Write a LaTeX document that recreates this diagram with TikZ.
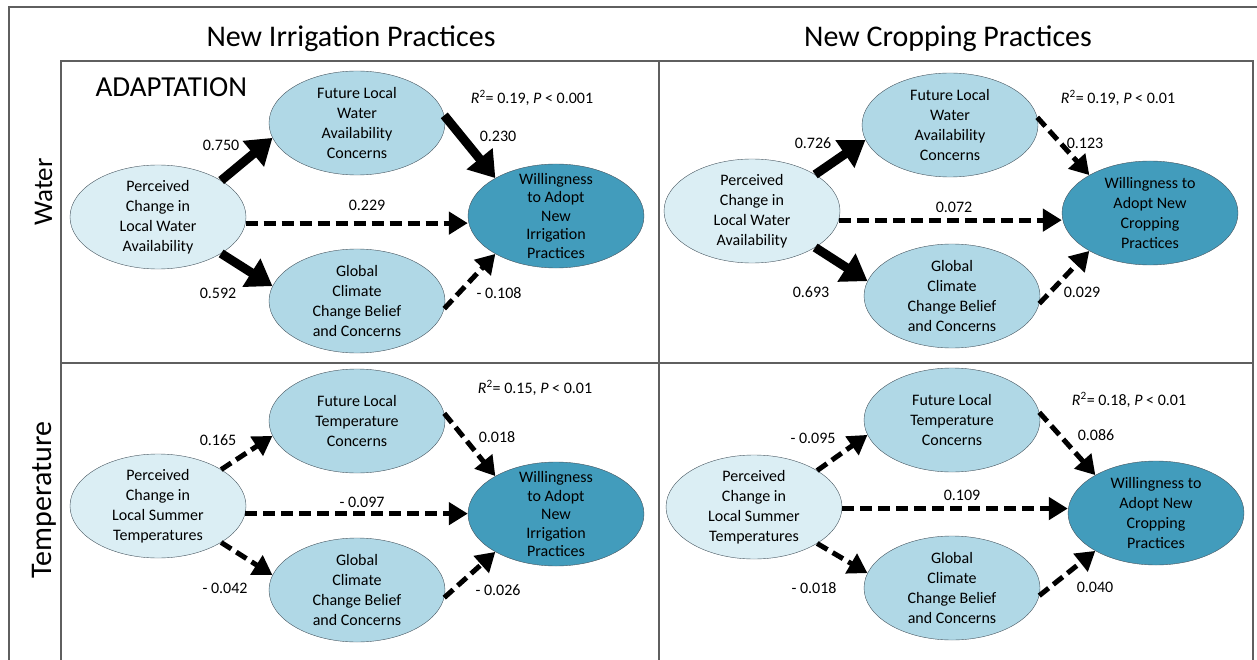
\documentclass[tikz,border=0pt]{standalone}
\usepackage{fontspec}
\setmainfont{Carlito}
\usetikzlibrary{shapes.geometric,arrows.meta}
\definecolor{mpale}{RGB}{219,238,244}
\definecolor{mlight}{RGB}{176,216,230}
\definecolor{mdark}{RGB}{66,156,188}
\definecolor{mframe}{RGB}{95,95,95}
\definecolor{mrim}{RGB}{70,85,95}

\begin{document}
\begin{tikzpicture}[x=1pt,y=-1pt]
  \tikzset{sem ellipse/.style={draw=mrim,ellipse,fill=#1,minimum width=176pt,minimum height=104pt,inner sep=-20pt,align=center,font=\fontsize{16}{20}\selectfont},
    sig path/.style={line width=9pt,-{Triangle[length=25pt,width=32pt]}},
    ns path/.style={line width=5pt,dash pattern=on 12pt off 6pt,-{Triangle[length=19pt,width=22pt]}},
    coef/.style={font=\fontsize{16}{18}\selectfont},
    heading/.style={anchor=base,font=\fontsize{30}{34}\selectfont}}
  \useasboundingbox (0,0) rectangle (1257,660);

  % frame
  \draw[mframe,line width=2pt] (9,660) -- (9,7) -- (1257,7);
  \draw[mframe,line width=2pt] (61,660) -- (61,61) -- (1253,61) -- (1253,660);
  \draw[mframe,line width=2pt] (659,61) -- (659,660);
  \draw[mframe,line width=2pt] (61,363) -- (1253,363);

  \node[heading] (irr) at (351,47) {New Irrigation Practices};
  \node[heading] (crop) at (948,47) {New Cropping Practices};
  \node[heading,rotate=90,font=\fontsize{27}{30}\selectfont] (water) at (52,192) {Water};
  \node[heading,rotate=90] (temp) at (51,500) {Temperature};
  \node[font=\fontsize{29}{32}\selectfont,anchor=base west] (adapt) at (92,97) {ADAPTATION};

  % irrigation, water
  \node[sem ellipse=mpale] (P1) at (158,217) {Perceived\\Change in\\Local Water\\Availability}; % P
  \node[sem ellipse=mlight] (F1) at (357,123) {Future Local\\Water\\Availability\\Concerns}; % F
  \node[sem ellipse=mlight] (G1) at (357,301) {Global\\Climate\\Change Belief\\and Concerns}; % G
  \node[sem ellipse=mdark,font=\fontsize{16}{18.5}\selectfont] (W1) at (556,216) {Willingness\\to Adopt\\New\\Irrigation\\Practices}; % W
  \draw[sig path] (P1.30) -- (F1.190);
  \draw[sig path] (F1.5) -- (W1.148);
  \draw[ns path] (P1.-4) -- (P1.-4 -| W1.west);
  \draw[sig path] (P1.-30) -- (G1.170);
  \draw[ns path] (G1.-5) -- (W1.212);
  \node[coef] (r1) at (532,98) {\textit{R}\textsuperscript{2}= 0.19, \textit{P} < 0.001};
  \node[coef] (c1a) at (221,145) {0.750};
  \node[coef] (c1b) at (498,136) {0.230};
  \node[coef] (c1c) at (367,205) {0.229};
  \node[coef] (c1d) at (218,293) {0.592};
  \node[coef] (c1e) at (499,293) {- 0.108};

  % cropping, water
  \node[sem ellipse=mpale] (P2) at (752,211) {Perceived\\Change in\\Local Water\\Availability}; % P
  \node[sem ellipse=mlight] (F2) at (950,125) {Future Local\\Water\\Availability\\Concerns}; % F
  \node[sem ellipse=mlight] (G2) at (952,296) {Global\\Climate\\Change Belief\\and Concerns}; % G
  \node[sem ellipse=mdark] (W2) at (1150,213) {Willingness to\\Adopt New\\Cropping\\Practices}; % W
  \draw[sig path] (P2.30) -- (F2.190);
  \draw[ns path] (F2.5) -- (W2.148);
  \draw[ns path] (P2.-6) -- (P2.-6 -| W2.west);
  \draw[sig path] (P2.-30) -- (G2.170);
  \draw[ns path] (G2.-5) -- (W2.212);
  \node[coef] (r2) at (1118,98) {\textit{R}\textsuperscript{2}= 0.19, \textit{P} < 0.01};
  \node[coef] (c2a) at (813,143) {0.726};
  \node[coef] (c2b) at (1085,143) {0.123};
  \node[coef] (c2c) at (954,207) {0.072};
  \node[coef] (c2d) at (811,292) {0.693};
  \node[coef] (c2e) at (1082,292) {0.029};

  % irrigation, temperature
  \node[sem ellipse=mpale] (P3) at (158,506) {Perceived\\Change in\\Local Summer\\Temperatures}; % P
  \node[sem ellipse=mlight] (F3) at (357,421) {Future Local\\Temperature\\Concerns}; % F
  \node[sem ellipse=mlight] (G3) at (357,590) {Global\\Climate\\Change Belief\\and Concerns}; % G
  \node[sem ellipse=mdark,font=\fontsize{16}{18.5}\selectfont] (W3) at (556,514) {Willingness\\to Adopt\\New\\Irrigation\\Practices}; % W
  \draw[ns path] (P3.30) -- (F3.190);
  \draw[ns path] (F3.5) -- (W3.148);
  \draw[ns path] (P3.-5) -- (P3.-5 -| W3.west);
  \draw[ns path] (P3.-30) -- (G3.170);
  \draw[ns path] (G3.-5) -- (W3.212);
  \node[coef] (r3) at (535,388) {\textit{R}\textsuperscript{2}= 0.15, \textit{P} < 0.01};
  \node[coef] (c3a) at (218,440) {0.165};
  \node[coef] (c3b) at (497,437) {0.018};
  \node[coef] (c3c) at (362,502) {- 0.097};
  \node[coef] (c3d) at (225,588) {- 0.042};
  \node[coef] (c3e) at (498,590) {- 0.026};

  % cropping, temperature
  \node[sem ellipse=mpale] (P4) at (754,507) {Perceived\\Change in\\Local Summer\\Temperatures}; % P
  \node[sem ellipse=mlight] (F4) at (952,420) {Future Local\\Temperature\\Concerns}; % F
  \node[sem ellipse=mlight] (G4) at (952,588) {Global\\Climate\\Change Belief\\and Concerns}; % G
  \node[sem ellipse=mdark] (W4) at (1156,513) {Willingness to\\Adopt New\\Cropping\\Practices}; % W
  \draw[ns path] (P4.30) -- (F4.190);
  \draw[ns path] (F4.5) -- (W4.148);
  \draw[ns path] (P4.-1) -- (P4.-1 -| W4.west);
  \draw[ns path] (P4.-30) -- (G4.170);
  \draw[ns path] (G4.-5) -- (W4.212);
  \node[coef] (r4) at (1129,400) {\textit{R}\textsuperscript{2}= 0.18, \textit{P} < 0.01};
  \node[coef] (c4a) at (813,438) {- 0.095};
  \node[coef] (c4b) at (1096,435) {0.086};
  \node[coef] (c4c) at (962,495) {0.109};
  \node[coef] (c4d) at (814,588) {- 0.018};
  \node[coef] (c4e) at (1095,587) {0.040};
\end{tikzpicture}
\end{document}
